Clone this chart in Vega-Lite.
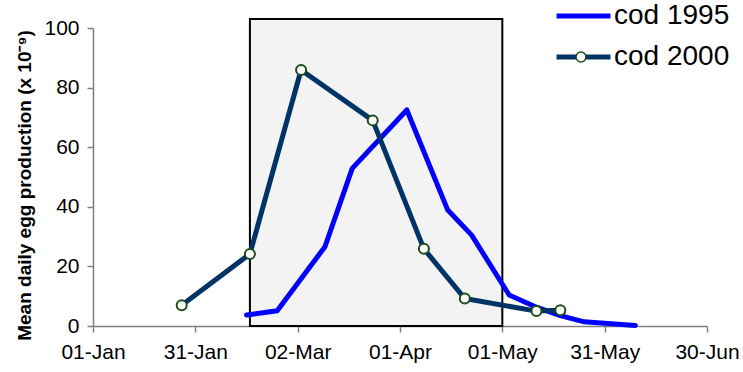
{
  "$schema": "https://vega.github.io/schema/vega-lite/v6.json",
  "width": 614,
  "height": 298,
  "autosize": "none",
  "padding": {"left": 93, "top": 28, "right": 36, "bottom": 46},
  "background": "white",
  "config": {
    "view": {"stroke": null},
    "font": "Liberation Sans",
    "axis": {"grid": false, "labelFont": "Liberation Sans", "labelColor": "black", "domainColor": "#808080", "tickColor": "#808080", "tickSize": 6, "domainWidth": 1.5, "tickWidth": 1.5, "labelFlush": false, "labelOverlap": false}
  },
  "datasets": {
    "cod": [
      {"date": "2001-02-15", "series": "cod 1995", "value": 3.7},
      {"date": "2001-02-24", "series": "cod 1995", "value": 5.1},
      {"date": "2001-03-10", "series": "cod 1995", "value": 26.6},
      {"date": "2001-03-18", "series": "cod 1995", "value": 52.9},
      {"date": "2001-04-03", "series": "cod 1995", "value": 72.5},
      {"date": "2001-04-15", "series": "cod 1995", "value": 38.9},
      {"date": "2001-04-22", "series": "cod 1995", "value": 30.5},
      {"date": "2001-05-03", "series": "cod 1995", "value": 10.4},
      {"date": "2001-05-11", "series": "cod 1995", "value": 6.3},
      {"date": "2001-05-18", "series": "cod 1995", "value": 3.5},
      {"date": "2001-05-25", "series": "cod 1995", "value": 1.4},
      {"date": "2001-06-09", "series": "cod 1995", "value": 0.2},
      {"date": "2001-01-27", "series": "cod 2000", "value": 7.0},
      {"date": "2001-02-16", "series": "cod 2000", "value": 24.2},
      {"date": "2001-03-03", "series": "cod 2000", "value": 85.9},
      {"date": "2001-03-24", "series": "cod 2000", "value": 69.0},
      {"date": "2001-04-08", "series": "cod 2000", "value": 25.9},
      {"date": "2001-04-20", "series": "cod 2000", "value": 9.2},
      {"date": "2001-05-11", "series": "cod 2000", "value": 5.0},
      {"date": "2001-05-18", "series": "cod 2000", "value": 5.3}
    ],
    "period": [{"start": "2001-02-16", "end": "2001-05-01"}]
  },
  "layer": [
    {
      "data": {"name": "period"},
      "mark": {"type": "rect", "fill": "#f3f3f3", "stroke": "black", "strokeWidth": 2},
      "encoding": {
        "x": {"field": "start", "type": "temporal",
              "scale": {"type": "utc", "domain": [{"year": 2001, "month": 1, "date": 1, "utc": true}, {"year": 2001, "month": 6, "date": 30, "utc": true}]},
              "axis": {
                "values": [
                  {"year": 2001, "month": 1, "date": 1, "utc": true},
                  {"year": 2001, "month": 1, "date": 31, "utc": true},
                  {"year": 2001, "month": 3, "date": 2, "utc": true},
                  {"year": 2001, "month": 4, "date": 1, "utc": true},
                  {"year": 2001, "month": 5, "date": 1, "utc": true},
                  {"year": 2001, "month": 5, "date": 31, "utc": true},
                  {"year": 2001, "month": 6, "date": 30, "utc": true}
                ],
                "labelExpr": "utcFormat(datum.value, '%d-%b')",
                "labelFontSize": 21,
                "labelPadding": 9,
                "title": null
              }},
        "x2": {"field": "end"},
        "y": {"datum": 0, "type": "quantitative",
              "scale": {"domain": [0, 100], "nice": false},
              "axis": {
                "values": [0, 20, 40, 60, 80, 100],
                "labelFontSize": 21,
                "labelPadding": 8,
                "title": "Mean daily egg production (x 10⁻⁹)",
                "titleFontSize": 19,
                "titleFontWeight": "bold",
                "titleColor": "black",
                "titleX": -59,
                "titleY": 157
              }},
        "y2": {"datum": 103}
      }
    },
    {
      "data": {"name": "cod"},
      "mark": {"type": "line", "strokeWidth": 5, "strokeJoin": "round", "strokeCap": "round"},
      "encoding": {
        "x": {"field": "date", "type": "temporal"},
        "y": {"field": "value", "type": "quantitative"},
        "color": {"field": "series", "type": "nominal",
                  "scale": {"domain": ["cod 1995", "cod 2000"], "range": ["#0000ff", "#003366"]},
                  "legend": {"orient": "none", "legendX": 461, "legendY": -27, "title": null,
                             "symbolType": "stroke", "symbolSize": 2916, "symbolStrokeWidth": 5,
                             "labelFontSize": 28, "labelColor": "black", "labelOffset": 1,
                             "clipHeight": 30, "rowPadding": 11, "padding": 0}}
      }
    },
    {
      "data": {"name": "cod"},
      "transform": [{"filter": "datum.series === 'cod 2000'"}],
      "mark": {"type": "point", "filled": true, "fill": "white", "stroke": "#1a4d1a", "strokeWidth": 2, "size": 100, "opacity": 1},
      "encoding": {
        "x": {"field": "date", "type": "temporal"},
        "y": {"field": "value", "type": "quantitative"},
        "shape": {"field": "series", "type": "nominal",
                  "scale": {"domain": ["cod 2000"], "range": ["circle"]},
                  "legend": {"orient": "none", "legendX": 474, "legendY": 14, "title": null,
                             "symbolSize": 100, "labelExpr": "''", "labelFontSize": 28,
                             "clipHeight": 30, "padding": 0,
                             "encode": {"symbols": {"update": {
                               "fill": {"value": "white"},
                               "stroke": {"value": "#1a4d1a"},
                               "strokeWidth": {"value": 2},
                               "opacity": {"value": 1},
                               "fillOpacity": {"value": 1},
                               "strokeOpacity": {"value": 1}
                             }}}}}
      }
    }
  ]
}
